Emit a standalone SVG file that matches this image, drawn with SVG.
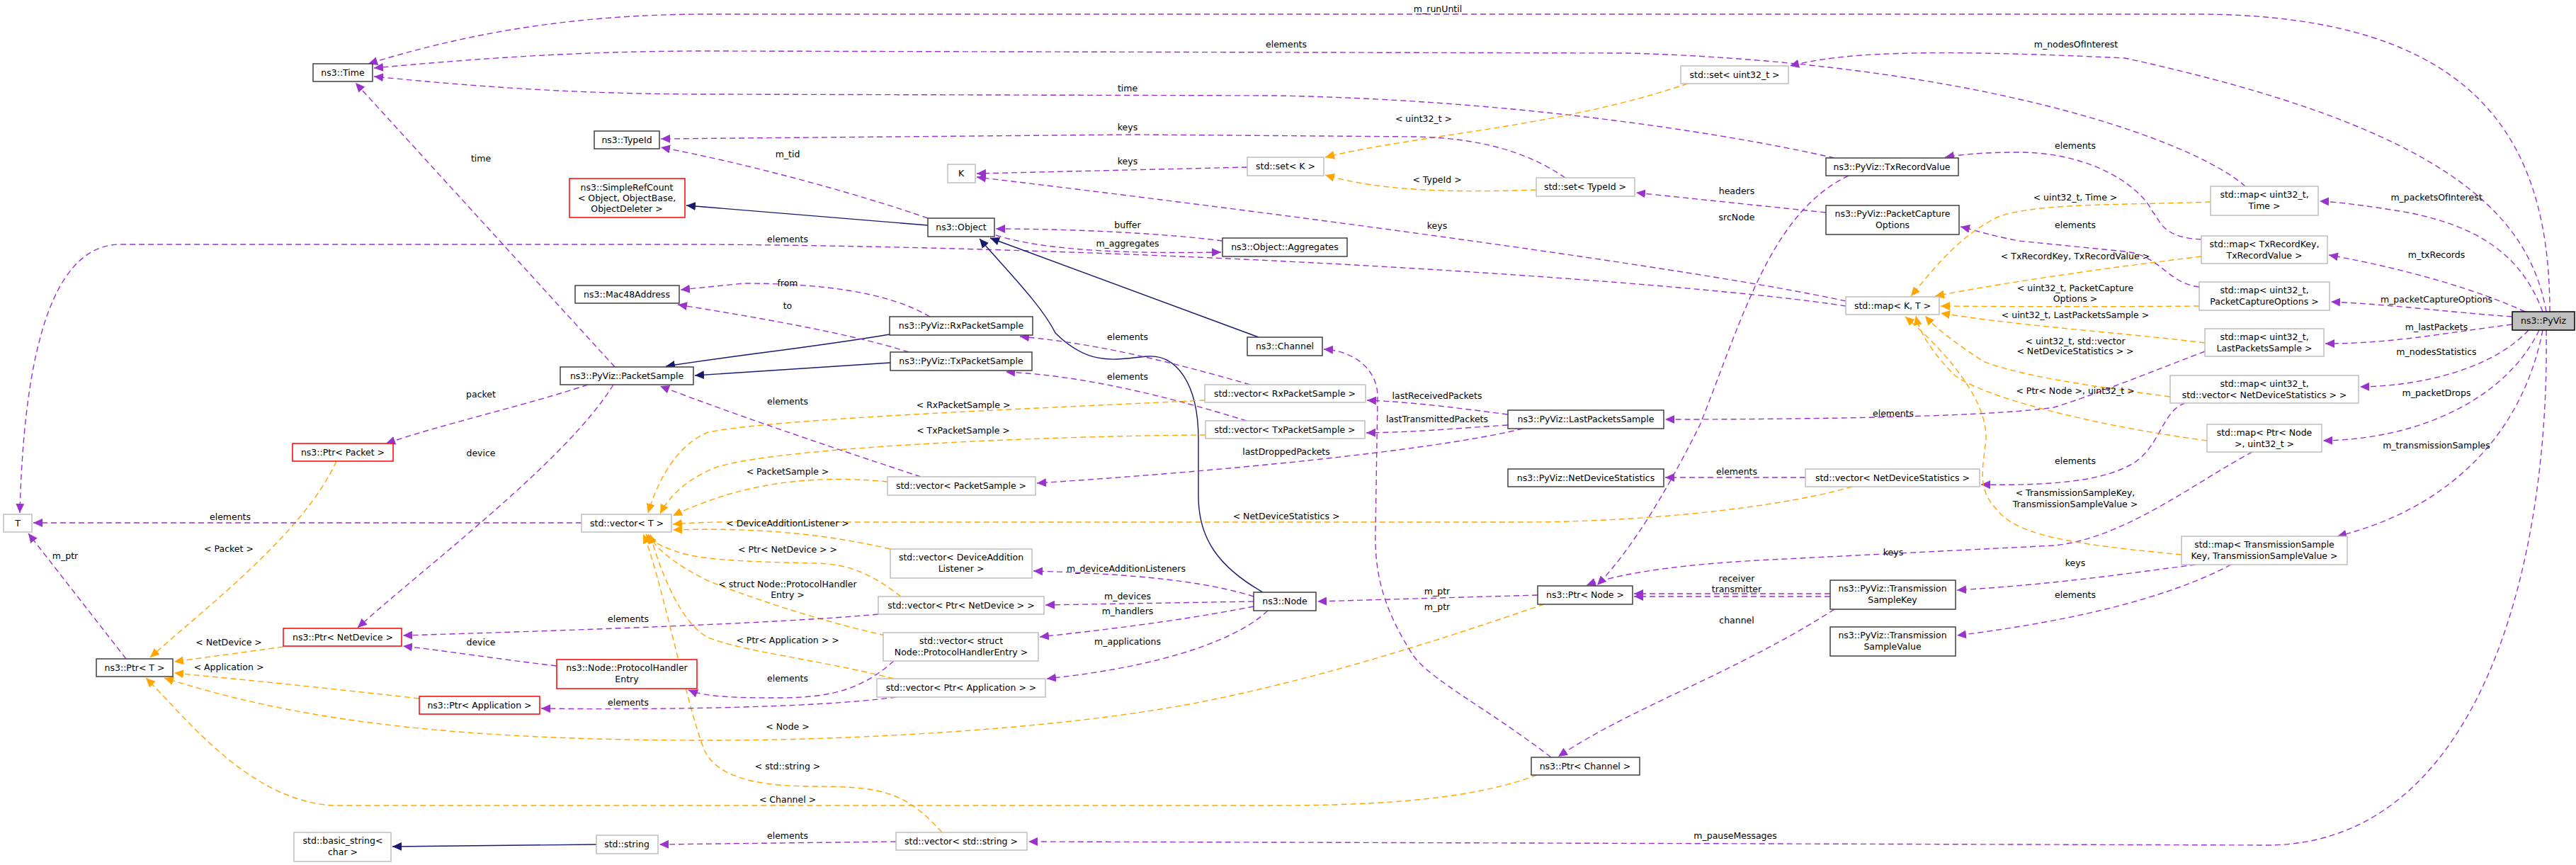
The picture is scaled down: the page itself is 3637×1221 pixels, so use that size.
<svg xmlns="http://www.w3.org/2000/svg" width="3637" height="1221" viewBox="0 0 3637 1221">
<style>
text{font-family:"DejaVu Sans",Verdana,sans-serif;font-size:12.5px;fill:#000;text-anchor:middle}
.bk{fill:#fff;stroke:#404040;stroke-width:1.5}
.gr{fill:#fff;stroke:#bfbfbf;stroke-width:1.5}
.rd{fill:#fff;stroke:#ff0000;stroke-width:1.5}
.me{fill:#bfbfbf;stroke:#000;stroke-width:1.5}
.p{fill:none;stroke:#9a32cd;stroke-width:1.4;stroke-dasharray:8,5;marker-end:url(#ap)}
.o{fill:none;stroke:#ffa500;stroke-width:1.4;stroke-dasharray:8,5;marker-end:url(#ao)}
.n{fill:none;stroke:#191970;stroke-width:1.4;marker-end:url(#an)}
</style>
<defs>
<marker id="ap" markerUnits="userSpaceOnUse" markerWidth="14" markerHeight="12" refX="13" refY="6" orient="auto"><path d="M0,0 L13,6 L0,12 Z" fill="#9a32cd"/></marker>
<marker id="ao" markerUnits="userSpaceOnUse" markerWidth="14" markerHeight="12" refX="13" refY="6" orient="auto"><path d="M0,0 L13,6 L0,12 Z" fill="#ffa500"/></marker>
<marker id="an" markerUnits="userSpaceOnUse" markerWidth="14" markerHeight="12" refX="13" refY="6" orient="auto"><path d="M0,0 L13,6 L0,12 Z" fill="#191970"/></marker>
</defs>
<rect width="3637" height="1221" fill="#fff"/>
<g id="edges">
<path class="p" d="M3600,440 C3600,200 3500,20 3100,20 L1000,20 C800,20 650,50 520,90"/>
<path class="p" d="M3595,440 C3570,300 3450,180 3000,82 C2700,68 2600,75 2527,93"/>
<path class="p" d="M3590,440 C3560,360 3500,320 3400,300 C3340,290 3300,285 3275,284"/>
<path class="p" d="M3565,440 C3500,410 3400,380 3288,360"/>
<path class="p" d="M3547,447 C3450,440 3380,430 3291,426"/>
<path class="p" d="M3547,458 C3450,470 3380,485 3283,485"/>
<path class="p" d="M3570,466 C3520,520 3420,545 3332,546"/>
<path class="p" d="M3585,466 C3540,560 3420,620 3280,622"/>
<path class="p" d="M3590,466 C3560,620 3450,720 3300,757"/>
<path class="p" d="M3595,466 C3600,800 3500,1193 3200,1193 L1452,1188"/>
<path class="p" d="M3170,263 C3100,200 2800,90 2300,75 L1000,72 C800,72 650,85 528,96"/>
<path class="p" d="M2590,223 C2400,180 2100,140 1800,135 L1000,133 C800,133 650,120 528,108"/>
<path class="p" d="M868,518 L502,117"/>
<path class="p" d="M830,543 C750,570 620,600 545,626"/>
<path class="p" d="M866,543 C800,650 600,800 505,886"/>
<path class="o" d="M2383,118 C2200,180 2000,190 1871,222"/>
<path class="p" d="M2210,251 C2150,210 2080,195 2000,193 L1600,190 L933,196"/>
<path class="o" d="M2169,268 C2050,272 1950,270 1871,247"/>
<path class="p" d="M2578,300 L2310,272"/>
<path class="p" d="M1761,236 L1379,245"/>
<path class="p" d="M2606,425 C2400,380 1800,300 1379,250"/>
<path class="p" d="M2606,432 C2400,400 1700,350 1000,345 L170,345 C90,345 35,450 28,724"/>
<path class="p" d="M1310,308 C1200,270 1050,230 933,208"/>
<path class="n" d="M1310,318 L969,290"/>
<path class="p" d="M1726,340 C1650,330 1520,323 1406,323"/>
<path class="p" d="M1406,332 C1480,355 1600,358 1724,356"/>
<path class="n" d="M1777,476 L1398,336"/>
<path class="n" d="M1783,836 C1720,800 1692,760 1692,700 L1692,620 C1692,540 1660,500 1620,503 C1580,506 1540,520 1490,470 C1470,430 1420,380 1383,337"/>
<path class="n" d="M1256,472 C1150,490 1050,500 940,517"/>
<path class="n" d="M1257,512 L981,530"/>
<path class="p" d="M1313,447 C1250,410 1150,400 1050,400 L961,409"/>
<path class="p" d="M1283,497 C1200,470 1050,445 957,430"/>
<path class="p" d="M1765,543 C1650,510 1550,485 1440,475"/>
<path class="p" d="M1760,594 C1650,560 1530,530 1420,525"/>
<path class="o" d="M1701,565 C1500,575 1100,590 1000,610 C950,630 925,690 915,724"/>
<path class="o" d="M1702,614 C1500,615 1100,630 1010,660 C960,680 940,710 932,725"/>
<path class="o" d="M1253,680 C1150,670 1050,680 950,728"/>
<path class="p" d="M1300,673 C1200,640 1050,590 932,545"/>
<path class="p" d="M2129,585 C2050,575 2000,568 1930,565"/>
<path class="p" d="M2129,600 C2050,605 2000,610 1929,611"/>
<path class="p" d="M2150,605 C2050,630 1800,660 1464,682"/>
<path class="p" d="M2549,674 L2351,674"/>
<path class="o" d="M2615,687 C2500,720 2300,737 2150,737 L1200,737 C1100,737 1000,735 950,740"/>
<path class="o" d="M1257,775 C1150,750 1050,745 950,748"/>
<path class="p" d="M1770,842 C1700,820 1600,810 1459,806"/>
<path class="p" d="M1770,849 L1476,854"/>
<path class="p" d="M1770,856 C1700,870 1600,885 1468,899"/>
<path class="p" d="M1790,862 C1750,900 1650,940 1478,958"/>
<path class="o" d="M1272,842 C1230,810 1200,796 1150,795 C1050,793 990,790 960,780 C935,772 920,765 912,754"/>
<path class="o" d="M1250,897 C1150,875 1050,840 1000,820 C960,800 930,780 915,754"/>
<path class="o" d="M1262,958 C1150,930 1050,920 1000,900 C960,880 930,800 918,754"/>
<path class="o" d="M1330,1175 C1280,1120 1250,1110 1150,1110 C1050,1110 1010,1090 995,1060 C970,1000 930,800 908,754"/>
<path class="p" d="M1240,867 C1100,880 800,890 569,897"/>
<path class="p" d="M1262,933 C1220,970 1180,985 1100,985 C1050,985 1000,985 972,974"/>
<path class="p" d="M1265,984 C1150,1000 900,1002 764,1000"/>
<path class="p" d="M786,940 C700,930 640,920 569,912"/>
<path class="o" d="M400,913 L246,934"/>
<path class="o" d="M592,986 C450,970 350,960 246,950"/>
<path class="o" d="M2180,853 C2100,880 1900,950 1700,990 C1500,1030 1200,1045 1000,1045 C600,1045 400,1010 232,957"/>
<path class="o" d="M2170,1094 C2100,1120 2000,1137 1800,1137 L470,1137 C350,1130 260,1010 206,957"/>
<path class="o" d="M475,651 C430,750 300,850 212,928"/>
<path class="p" d="M178,930 L40,753"/>
<path class="p" d="M821,738 L47,738"/>
<path class="p" d="M1265,1188 L931,1192"/>
<path class="n" d="M842,1192 L554,1195"/>
<path class="p" d="M2171,840 L1860,849"/>
<path class="p" d="M2190,1069 C2100,1000 2020,960 1995,925 C1960,870 1940,820 1942,750 L1945,560 C1945,520 1910,495 1869,493"/>
<path class="p" d="M2584,838 L2307,838"/>
<path class="p" d="M2584,842 L2307,842"/>
<path class="p" d="M2590,860 C2450,950 2300,1000 2200,1068"/>
<path class="p" d="M2610,248 C2500,300 2460,450 2400,600 C2350,700 2300,780 2255,826"/>
<path class="p" d="M3180,638 C3100,680 3000,760 2900,770 L2500,790 C2400,795 2300,805 2240,826"/>
<path class="p" d="M3100,797 C3000,810 2900,825 2763,833"/>
<path class="p" d="M3150,797 C3050,850 2900,880 2763,897"/>
<path class="p" d="M3113,496 C3050,520 2950,560 2900,575 C2800,590 2500,592 2351,592"/>
<path class="p" d="M3085,569 C3050,580 3050,640 3000,660 C2950,685 2850,685 2797,684"/>
<path class="p" d="M3108,338 C3050,335 3050,310 3040,300 C3020,260 2950,215 2850,215 C2800,215 2770,218 2746,222"/>
<path class="p" d="M3105,405 C3060,400 3050,360 3000,355 L2850,340 C2800,330 2790,325 2768,320"/>
<path class="o" d="M3121,285 C3000,290 2850,285 2810,312 C2760,340 2730,380 2698,418"/>
<path class="o" d="M3108,362 C3000,375 2850,395 2732,418"/>
<path class="o" d="M3105,432 C3000,433 2850,433 2740,432"/>
<path class="o" d="M3113,484 C3000,470 2850,460 2740,442"/>
<path class="o" d="M3064,560 C2950,545 2850,530 2800,510 C2770,490 2740,470 2718,446"/>
<path class="o" d="M3116,622 C2950,600 2800,560 2760,530 C2730,500 2710,470 2705,446"/>
<path class="o" d="M3080,783 C2950,770 2850,760 2820,720 C2790,690 2800,660 2804,620 C2806,560 2740,490 2690,447"/>
</g>
<g id="labels">
<text x="2030" y="17">m_runUntil</text>
<text x="2931" y="67">m_nodesOfInterest</text>
<text x="3440" y="283">m_packetsOfInterest</text>
<text x="3440" y="364">m_txRecords</text>
<text x="3440" y="427">m_packetCaptureOptions</text>
<text x="3440" y="466">m_lastPackets</text>
<text x="3440" y="501">m_nodesStatistics</text>
<text x="3440" y="559">m_packetDrops</text>
<text x="3440" y="633">m_transmissionSamples</text>
<text x="2450" y="1184">m_pauseMessages</text>
<text x="1816" y="67">elements</text>
<text x="2930" y="283">&lt; uint32_t, Time &gt;</text>
<text x="1592" y="129">time</text>
<text x="2452" y="311">srcNode</text>
<text x="2930" y="210">elements</text>
<text x="2930" y="366">&lt; TxRecordKey, TxRecordValue &gt;</text>
<text x="2930" y="322">elements</text>
<text x="2930" y="411">&lt; uint32_t, PacketCapture</text>
<text x="2930" y="426">Options &gt;</text>
<text x="2673" y="588">elements</text>
<text x="2930" y="449">&lt; uint32_t, LastPacketsSample &gt;</text>
<text x="2930" y="655">elements</text>
<text x="2930" y="486">&lt; uint32_t, std::vector</text>
<text x="2930" y="500">&lt; NetDeviceStatistics &gt; &gt;</text>
<text x="2673" y="784">keys</text>
<text x="2930" y="556">&lt; Ptr&lt; Node &gt;, uint32_t &gt;</text>
<text x="2930" y="799">keys</text>
<text x="2930" y="844">elements</text>
<text x="2930" y="700">&lt; TransmissionSampleKey,</text>
<text x="2930" y="716">TransmissionSampleValue &gt;</text>
<text x="1592" y="184">keys</text>
<text x="1592" y="232">keys</text>
<text x="2029" y="323">keys</text>
<text x="1112" y="342">elements</text>
<text x="325" y="734">elements</text>
<text x="2010" y="172">&lt; uint32_t &gt;</text>
<text x="2029" y="258">&lt; TypeId &gt;</text>
<text x="2452" y="274">headers</text>
<text x="1112" y="222">m_tid</text>
<text x="1592" y="322">buffer</text>
<text x="1592" y="348">m_aggregates</text>
<text x="679" y="228">time</text>
<text x="679" y="561">packet</text>
<text x="679" y="644">device</text>
<text x="1112" y="404">from</text>
<text x="1112" y="436">to</text>
<text x="1592" y="480">elements</text>
<text x="1592" y="536">elements</text>
<text x="1360" y="576">&lt; RxPacketSample &gt;</text>
<text x="1360" y="612">&lt; TxPacketSample &gt;</text>
<text x="1112" y="670">&lt; PacketSample &gt;</text>
<text x="1112" y="571">elements</text>
<text x="2029" y="563">lastReceivedPackets</text>
<text x="2029" y="596">lastTransmittedPackets</text>
<text x="1816" y="642">lastDroppedPackets</text>
<text x="2452" y="670">elements</text>
<text x="1816" y="733">&lt; NetDeviceStatistics &gt;</text>
<text x="1112" y="743">&lt; DeviceAdditionListener &gt;</text>
<text x="1590" y="807">m_deviceAdditionListeners</text>
<text x="1592" y="846">m_devices</text>
<text x="1592" y="867">m_handlers</text>
<text x="1592" y="910">m_applications</text>
<text x="1112" y="780">&lt; Ptr&lt; NetDevice &gt; &gt;</text>
<text x="887" y="878">elements</text>
<text x="1112" y="829">&lt; struct Node::ProtocolHandler</text>
<text x="1112" y="844">Entry &gt;</text>
<text x="1112" y="962">elements</text>
<text x="1112" y="908">&lt; Ptr&lt; Application &gt; &gt;</text>
<text x="887" y="996">elements</text>
<text x="679" y="911">device</text>
<text x="1112" y="1030">&lt; Node &gt;</text>
<text x="1112" y="1133">&lt; Channel &gt;</text>
<text x="323" y="911">&lt; NetDevice &gt;</text>
<text x="323" y="946">&lt; Application &gt;</text>
<text x="323" y="779">&lt; Packet &gt;</text>
<text x="92" y="789">m_ptr</text>
<text x="1112" y="1086">&lt; std::string &gt;</text>
<text x="1112" y="1184">elements</text>
<text x="2029" y="839">m_ptr</text>
<text x="2029" y="861">m_ptr</text>
<text x="2452" y="821">receiver</text>
<text x="2452" y="836">transmitter</text>
<text x="2452" y="880">channel</text>
</g>
<g id="n-time"><rect class="bk" x="442" y="90" width="84" height="25"/><text x="484" y="107">ns3::Time</text></g>
<g id="n-typeid"><rect class="bk" x="839" y="185" width="92" height="25"/><text x="885" y="202">ns3::TypeId</text></g>
<g id="n-simplerefcount"><rect class="rd" x="804" y="252" width="163" height="55"/><text x="885" y="269">ns3::SimpleRefCount</text><text x="885" y="284">&lt; Object, ObjectBase,</text><text x="885" y="299">ObjectDeleter &gt;</text></g>
<g id="n-mac48"><rect class="bk" x="812" y="403" width="147" height="25"/><text x="885" y="420">ns3::Mac48Address</text></g>
<g id="n-packetsample"><rect class="bk" x="791" y="518" width="188" height="25"/><text x="885" y="535">ns3::PyViz::PacketSample</text></g>
<g id="n-T"><rect class="gr" x="5" y="726" width="40" height="25"/><text x="25" y="743">T</text></g>
<g id="n-ptrpacket"><rect class="rd" x="413" y="626" width="142" height="25"/><text x="484" y="643">ns3::Ptr&lt; Packet &gt;</text></g>
<g id="n-vectorT"><rect class="gr" x="821" y="726" width="127" height="25"/><text x="885" y="743">std::vector&lt; T &gt;</text></g>
<g id="n-ptrnetdevice"><rect class="rd" x="400" y="887" width="167" height="25"/><text x="484" y="904">ns3::Ptr&lt; NetDevice &gt;</text></g>
<g id="n-ptrT"><rect class="bk" x="136" y="930" width="108" height="25"/><text x="190" y="947">ns3::Ptr&lt; T &gt;</text></g>
<g id="n-phe"><rect class="rd" x="786" y="931" width="198" height="41"/><text x="885" y="947">ns3::Node::ProtocolHandler</text><text x="885" y="963">Entry</text></g>
<g id="n-ptrapp"><rect class="rd" x="592" y="983" width="170" height="25"/><text x="677" y="1000">ns3::Ptr&lt; Application &gt;</text></g>
<g id="n-basicstring"><rect class="gr" x="415" y="1175" width="137" height="41"/><text x="484" y="1191">std::basic_string&lt;</text><text x="484" y="1207">char &gt;</text></g>
<g id="n-string"><rect class="gr" x="842" y="1179" width="87" height="26"/><text x="885" y="1196">std::string</text></g>
<g id="n-K"><rect class="gr" x="1338" y="232" width="39" height="26"/><text x="1357" y="249">K</text></g>
<g id="n-setK"><rect class="gr" x="1761" y="222" width="108" height="26"/><text x="1815" y="239">std::set&lt; K &gt;</text></g>
<g id="n-object"><rect class="bk" x="1310" y="308" width="94" height="26"/><text x="1357" y="325">ns3::Object</text></g>
<g id="n-aggregates"><rect class="bk" x="1726" y="336" width="176" height="26"/><text x="1814" y="353">ns3::Object::Aggregates</text></g>
<g id="n-rx"><rect class="bk" x="1256" y="447" width="202" height="26"/><text x="1357" y="464">ns3::PyViz::RxPacketSample</text></g>
<g id="n-tx"><rect class="bk" x="1257" y="497" width="200" height="26"/><text x="1357" y="514">ns3::PyViz::TxPacketSample</text></g>
<g id="n-channel"><rect class="bk" x="1761" y="476" width="106" height="26"/><text x="1814" y="493">ns3::Channel</text></g>
<g id="n-vecrx"><rect class="gr" x="1701" y="543" width="227" height="25"/><text x="1814" y="560">std::vector&lt; RxPacketSample &gt;</text></g>
<g id="n-vectx"><rect class="gr" x="1702" y="594" width="225" height="25"/><text x="1814" y="611">std::vector&lt; TxPacketSample &gt;</text></g>
<g id="n-vecps"><rect class="gr" x="1253" y="673" width="209" height="26"/><text x="1357" y="690">std::vector&lt; PacketSample &gt;</text></g>
<g id="n-vecdal"><rect class="gr" x="1257" y="775" width="200" height="41"/><text x="1357" y="791">std::vector&lt; DeviceAddition</text><text x="1357" y="807">Listener &gt;</text></g>
<g id="n-vecpnd"><rect class="gr" x="1240" y="842" width="234" height="25"/><text x="1357" y="859">std::vector&lt; Ptr&lt; NetDevice &gt; &gt;</text></g>
<g id="n-node"><rect class="bk" x="1770" y="836" width="88" height="26"/><text x="1814" y="853">ns3::Node</text></g>
<g id="n-vecphe"><rect class="gr" x="1247" y="893" width="219" height="40"/><text x="1357" y="909">std::vector&lt; struct</text><text x="1357" y="925">Node::ProtocolHandlerEntry &gt;</text></g>
<g id="n-vecapp"><rect class="gr" x="1238" y="958" width="238" height="26"/><text x="1357" y="975">std::vector&lt; Ptr&lt; Application &gt; &gt;</text></g>
<g id="n-vecstring"><rect class="gr" x="1265" y="1175" width="185" height="25"/><text x="1357" y="1192">std::vector&lt; std::string &gt;</text></g>
<g id="n-setuint"><rect class="gr" x="2373" y="93" width="152" height="25"/><text x="2449" y="110">std::set&lt; uint32_t &gt;</text></g>
<g id="n-txrecordvalue"><rect class="bk" x="2578" y="223" width="187" height="25"/><text x="2671" y="240">ns3::PyViz::TxRecordValue</text></g>
<g id="n-settypeid"><rect class="gr" x="2169" y="251" width="139" height="26"/><text x="2238" y="268">std::set&lt; TypeId &gt;</text></g>
<g id="n-pco"><rect class="bk" x="2578" y="290" width="188" height="41"/><text x="2672" y="306">ns3::PyViz::PacketCapture</text><text x="2672" y="322">Options</text></g>
<g id="n-mapKT"><rect class="gr" x="2606" y="419" width="132" height="25"/><text x="2672" y="436">std::map&lt; K, T &gt;</text></g>
<g id="n-lps"><rect class="bk" x="2129" y="579" width="220" height="26"/><text x="2239" y="596">ns3::PyViz::LastPacketsSample</text></g>
<g id="n-nds"><rect class="bk" x="2129" y="662" width="220" height="25"/><text x="2239" y="679">ns3::PyViz::NetDeviceStatistics</text></g>
<g id="n-vecnds"><rect class="gr" x="2549" y="662" width="246" height="25"/><text x="2672" y="679">std::vector&lt; NetDeviceStatistics &gt;</text></g>
<g id="n-ptrnode"><rect class="bk" x="2171" y="827" width="134" height="26"/><text x="2238" y="844">ns3::Ptr&lt; Node &gt;</text></g>
<g id="n-tsk"><rect class="bk" x="2584" y="819" width="177" height="41"/><text x="2672" y="835">ns3::PyViz::Transmission</text><text x="2672" y="851">SampleKey</text></g>
<g id="n-tsv"><rect class="bk" x="2584" y="885" width="177" height="41"/><text x="2672" y="901">ns3::PyViz::Transmission</text><text x="2672" y="917">SampleValue</text></g>
<g id="n-ptrchannel"><rect class="bk" x="2162" y="1069" width="153" height="25"/><text x="2238" y="1086">ns3::Ptr&lt; Channel &gt;</text></g>
<g id="n-mapuinttime"><rect class="gr" x="3121" y="263" width="152" height="41"/><text x="3197" y="279">std::map&lt; uint32_t,</text><text x="3197" y="295">Time &gt;</text></g>
<g id="n-maptxrecord"><rect class="gr" x="3108" y="333" width="178" height="39"/><text x="3197" y="349">std::map&lt; TxRecordKey,</text><text x="3197" y="365">TxRecordValue &gt;</text></g>
<g id="n-mappco"><rect class="gr" x="3105" y="398" width="184" height="40"/><text x="3197" y="414">std::map&lt; uint32_t,</text><text x="3197" y="430">PacketCaptureOptions &gt;</text></g>
<g id="n-maplps"><rect class="gr" x="3113" y="464" width="168" height="39"/><text x="3197" y="480">std::map&lt; uint32_t,</text><text x="3197" y="496">LastPacketsSample &gt;</text></g>
<g id="n-mapnds"><rect class="gr" x="3064" y="530" width="266" height="39"/><text x="3197" y="546">std::map&lt; uint32_t,</text><text x="3197" y="562">std::vector&lt; NetDeviceStatistics &gt; &gt;</text></g>
<g id="n-mapptrnode"><rect class="gr" x="3116" y="599" width="162" height="39"/><text x="3197" y="615">std::map&lt; Ptr&lt; Node</text><text x="3197" y="631">&gt;, uint32_t &gt;</text></g>
<g id="n-mapts"><rect class="gr" x="3080" y="757" width="234" height="40"/><text x="3197" y="773">std::map&lt; TransmissionSample</text><text x="3197" y="789">Key, TransmissionSampleValue &gt;</text></g>
<g id="n-pyviz"><rect class="me" x="3547" y="440" width="88" height="26"/><text x="3591" y="457">ns3::PyViz</text></g>
</svg>
